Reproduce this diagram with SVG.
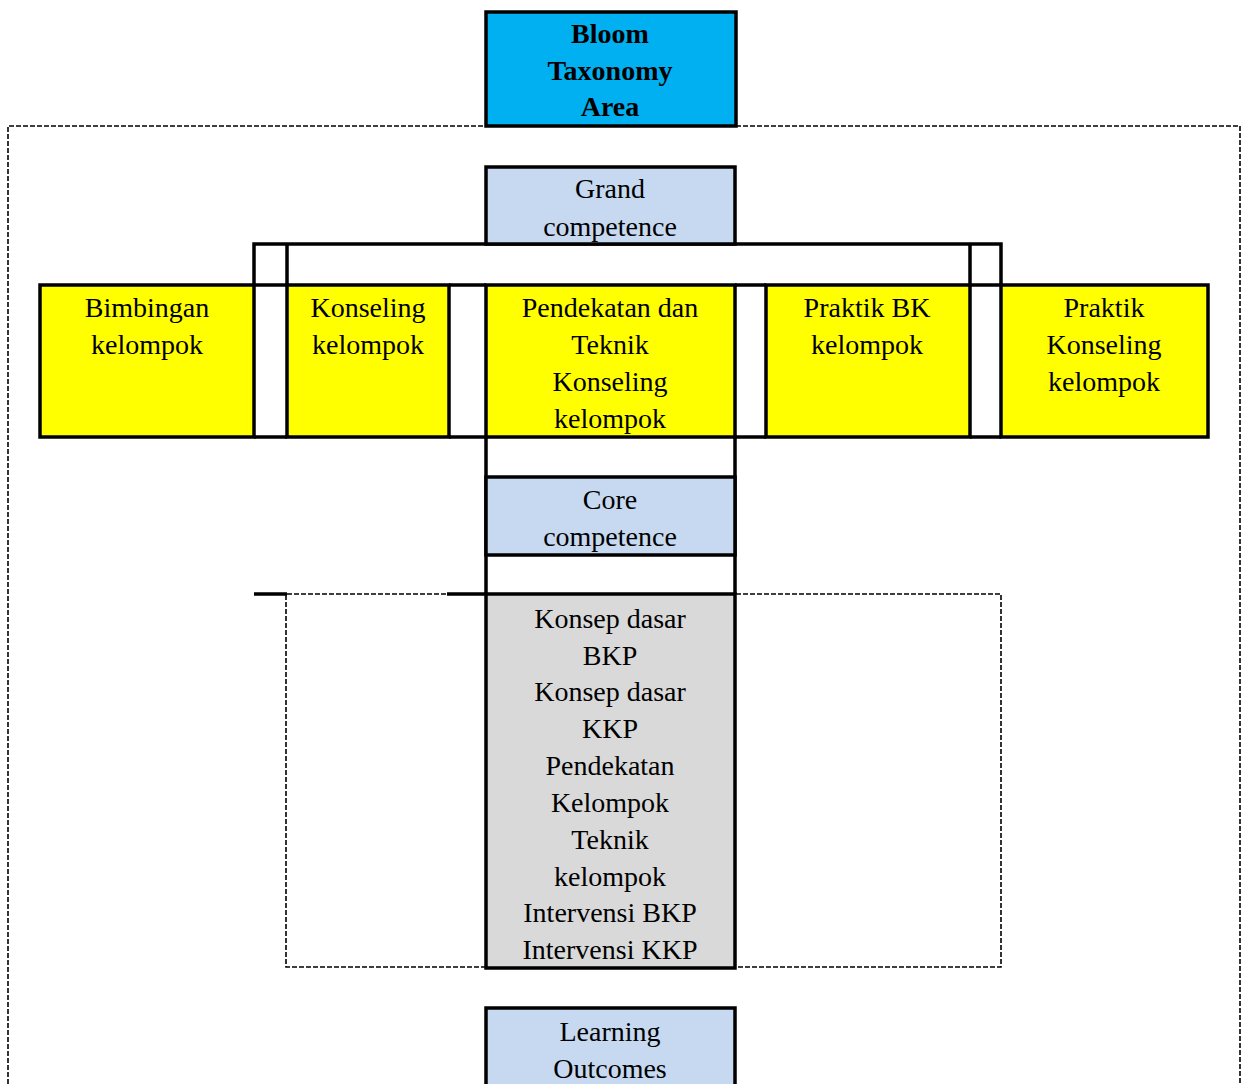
<svg xmlns="http://www.w3.org/2000/svg" width="1242" height="1084" viewBox="0 0 1242 1084">
<style>
text{font-size:28px;fill:#000;text-anchor:middle}
.b{font-weight:bold}
.box{stroke:#000;stroke-width:3.5}
.ln{stroke:#000;stroke-width:3.5;fill:none}
.dash{stroke:#000;stroke-width:1.6;fill:none;stroke-dasharray:5,2}
.y{fill:#FFFF00}
.lb{fill:#C6D9F0}
.g{fill:#D9D9D9}
</style>
<rect width="1242" height="1084" fill="#fff"/>
<g id="connectors">
<path class="dash" d="M8,1084 V126 H486 M736,126 H1240 V1084"/>
<path class="ln" d="M254,285 V244 H1001 V285 M287,244 V285 M970,244 V285"/>
<path class="ln" d="M254,285 H287 M254,437 H287 M449,285 H486 M449,437 H486 M735,285 H766 M735,437 H766 M970,285 H1001 M970,437 H1001"/>
<path class="ln" d="M486,437 V594 M735,437 V594"/>
<path class="ln" d="M254,594 H287 M447,594 H486"/>
<path class="dash" d="M287,594 H447 M736,594 H1001 V967 H736 M486,967 H286 V594"/>
</g>
<g font-family="Liberation Serif, serif">
<g id="bloom">
<rect class="box" x="486" y="12" width="250" height="114" fill="#00B0F0"/>
<text class="b" x="610" y="43">Bloom</text>
<text class="b" x="610" y="80">Taxonomy</text>
<text class="b" x="610" y="116">Area</text>
</g>
<g id="grand">
<rect class="box lb" x="486" y="167" width="249" height="77"/>
<text x="610" y="198">Grand</text>
<text x="610" y="236">competence</text>
</g>
<g id="bimbingan">
<rect class="box y" x="40" y="285" width="214" height="152"/>
<text x="147" y="317">Bimbingan</text>
<text x="147" y="354">kelompok</text>
</g>
<g id="konseling">
<rect class="box y" x="287" y="285" width="162" height="152"/>
<text x="368" y="317">Konseling</text>
<text x="368" y="354">kelompok</text>
</g>
<g id="pendekatan">
<rect class="box y" x="486" y="285" width="249" height="152"/>
<text x="610" y="317">Pendekatan dan</text>
<text x="610" y="354">Teknik</text>
<text x="610" y="391">Konseling</text>
<text x="610" y="428">kelompok</text>
</g>
<g id="praktik-bk">
<rect class="box y" x="766" y="285" width="204" height="152"/>
<text x="867" y="317">Praktik BK</text>
<text x="867" y="354">kelompok</text>
</g>
<g id="praktik-konseling">
<rect class="box y" x="1001" y="285" width="207" height="152"/>
<text x="1104" y="317">Praktik</text>
<text x="1104" y="354">Konseling</text>
<text x="1104" y="391">kelompok</text>
</g>
<g id="core">
<rect class="box lb" x="486" y="477" width="249" height="78"/>
<text x="610" y="509">Core</text>
<text x="610" y="546">competence</text>
</g>
<g id="materi">
<rect class="box g" x="486" y="594" width="249" height="374"/>
<text x="610" y="628">Konsep dasar</text>
<text x="610" y="665">BKP</text>
<text x="610" y="701">Konsep dasar</text>
<text x="610" y="738">KKP</text>
<text x="610" y="775">Pendekatan</text>
<text x="610" y="812">Kelompok</text>
<text x="610" y="849">Teknik</text>
<text x="610" y="886">kelompok</text>
<text x="610" y="922">Intervensi BKP</text>
<text x="610" y="959">Intervensi KKP</text>
</g>
<g id="learning">
<rect class="box lb" x="486" y="1008" width="249" height="80"/>
<text x="610" y="1041">Learning</text>
<text x="610" y="1078">Outcomes</text>
</g>
</g>
</svg>
